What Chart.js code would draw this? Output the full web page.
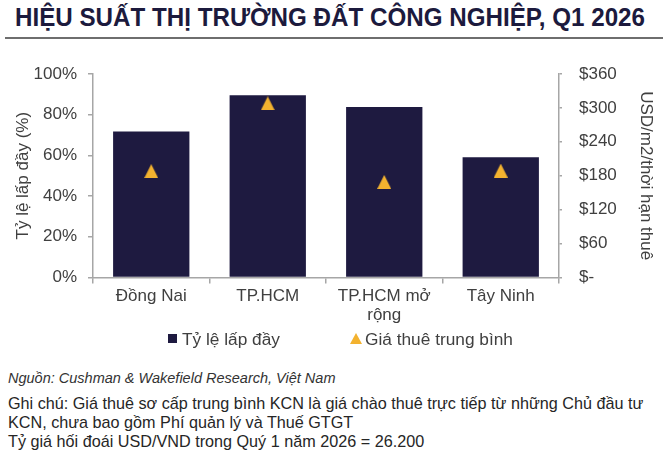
<!DOCTYPE html>
<html>
<head>
<meta charset="utf-8">
<script src="https://cdn.jsdelivr.net/npm/chart.js@4.4.1/dist/chart.umd.min.js"></script>
<style>
  html, body { margin:0; padding:0; background:#fff; width:671px; height:452px; overflow:hidden; }
  body { position:relative; font-family:"Liberation Sans", Arial, sans-serif; }
  #title { position:absolute; left:15px; top:2px; font-weight:bold; font-size:25px; color:#1c1a3d; white-space:nowrap; transform-origin:0 0; line-height:30px; }
  #rule { position:absolute; left:5px; top:37px; width:658px; height:2px; background:#6e6e6e; }
  #wrap { position:absolute; left:0; top:40px; width:671px; height:290px; }
  #legend { position:absolute; top:328px; left:0; width:671px; height:22px; font-size:17.3px; color:#404040; }
  .lg { position:absolute; top:0; white-space:nowrap; line-height:22px; }
  .sw { position:absolute; }
  .foot { position:absolute; left:8px; white-space:nowrap; color:#262626; }
</style>
</head>
<body>
<div id="title">HIỆU SUẤT THỊ TRƯỜNG ĐẤT CÔNG NGHIỆP, Q1 2026</div>
<div id="rule"></div>
<div id="wrap"><canvas id="c"></canvas></div>
<div id="legend"></div>
<div class="foot" id="f1" style="top:370px;font-size:14.5px;font-style:italic;color:#333;">Nguồn: Cushman &amp; Wakefield Research, Việt Nam</div>
<div class="foot" id="f2" style="top:394px;font-size:16.2px;">Ghi chú: Giá thuê sơ cấp trung bình KCN là giá chào thuê trực tiếp từ những Chủ đầu tư</div>
<div class="foot" id="f3" style="top:413px;font-size:16.2px;">KCN, chưa bao gồm Phí quản lý và Thuế GTGT</div>
<div class="foot" id="f4" style="top:432px;font-size:16.2px;">Tỷ giá hối đoái USD/VND trong Quý 1 năm 2026 = 26.200</div>
<script>
// ---- data ----
const categories = [["Đồng Nai"], ["TP.HCM"], ["TP.HCM mở", "rộng"], ["Tây Ninh"]];
const occupancyPct = [71.7, 89.5, 83.8, 59.1];
const avgRentUsd = [188, 308, 169, 189];
const seriesNames = ["Tỷ lệ lấp đầy", "Giá thuê trung bình"];
const leftAxisTitle = "Tỷ lệ lấp đầy (%)";
const rightAxisTitle = "USD/m2/thời hạn thuê";

const BAR = "#1e1a40";
const TRI = "#f3b22f";
const AXIS = "#a6a6a6";
const TXT = "#404040";

// fit title width
const t = document.getElementById('title');
const tw = t.getBoundingClientRect().width;
t.style.transform = 'scaleX(' + (630 / tw) + ')';

// triangle marker image (centred on the data point)
const tri = document.createElement('canvas');
tri.width = 14; tri.height = 14;
const tc = tri.getContext('2d');
tc.fillStyle = TRI;
tc.beginPath(); tc.moveTo(0, 14); tc.lineTo(7, 0); tc.lineTo(14, 14); tc.closePath(); tc.fill();

const font = { family: "'Liberation Sans', Arial, sans-serif", size: 17, lineHeight: 1.1 };

new Chart(document.getElementById('c'), {
  data: {
    labels: categories,
    datasets: [
      { type: 'bar', label: seriesNames[0], data: occupancyPct, yAxisID: 'y',
        backgroundColor: BAR, borderWidth: 0, barPercentage: 0.655, categoryPercentage: 1, order: 2 },
      { type: 'line', label: seriesNames[1], data: avgRentUsd, yAxisID: 'y1',
        showLine: false, pointStyle: tri, pointRadius: 7, backgroundColor: TRI, borderColor: TRI, order: 1 }
    ]
  },
  options: {
    responsive: true, maintainAspectRatio: false, animation: false,
    layout: { padding: { top: 34, left: 0, right: 0, bottom: 0 } },
    plugins: { legend: { display: false }, tooltip: { enabled: false } },
    scales: {
      x: {
        grid: { offset: true, drawOnChartArea: false, drawTicks: true, tickLength: 6, color: AXIS, lineWidth: 1.5 },
        border: { display: true, color: AXIS, width: 1.5 },
        ticks: { color: TXT, font: font, padding: 4, maxRotation: 0, autoSkip: false },
        afterFit: s => { s.height = 52.6; }
      },
      y: {
        position: 'left', min: 0, max: 100,
        grid: { drawOnChartArea: false, drawTicks: true, tickLength: 5, color: AXIS, lineWidth: 1.5 },
        border: { display: true, color: AXIS, width: 1.5 },
        ticks: { stepSize: 20, color: TXT, font: font, padding: 11, callback: v => v + '%' },
        title: { display: true, text: leftAxisTitle, color: TXT, font: font, padding: { top: 14 } },
        afterFit: s => { s.width = 93; }
      },
      y1: {
        position: 'right', min: 0, max: 360,
        grid: { drawOnChartArea: false, drawTicks: true, tickLength: 3, color: AXIS, lineWidth: 1.5 },
        border: { display: true, color: AXIS, width: 1.5 },
        ticks: { stepSize: 60, color: TXT, font: font, padding: 17, callback: v => v === 0 ? '$-' : '$' + v },
        title: { display: true, text: rightAxisTitle, color: TXT, font: font, padding: { top: 16 } },
        afterFit: s => { s.width = 112; }
      }
    }
  }
});

// legend (HTML) built from the series names/colours
const lg = document.getElementById('legend');
const items = [
  { x: 168, name: seriesNames[0], sw: '<div class="sw" style="left:0;top:6px;width:9px;height:9px;background:' + BAR + '"></div>', tx: 14 },
  { x: 350, name: seriesNames[1], sw: '<div class="sw" style="left:0;top:5px;width:0;height:0;border-left:6px solid transparent;border-right:6px solid transparent;border-bottom:11px solid ' + TRI + '"></div>', tx: 15 }
];
items.forEach(it => {
  const d = document.createElement('div');
  d.className = 'lg';
  d.style.left = it.x + 'px';
  d.innerHTML = it.sw + '<span style="position:relative;left:' + it.tx + 'px">' + it.name + '</span>';
  lg.appendChild(d);
});
</script>
</body>
</html>
